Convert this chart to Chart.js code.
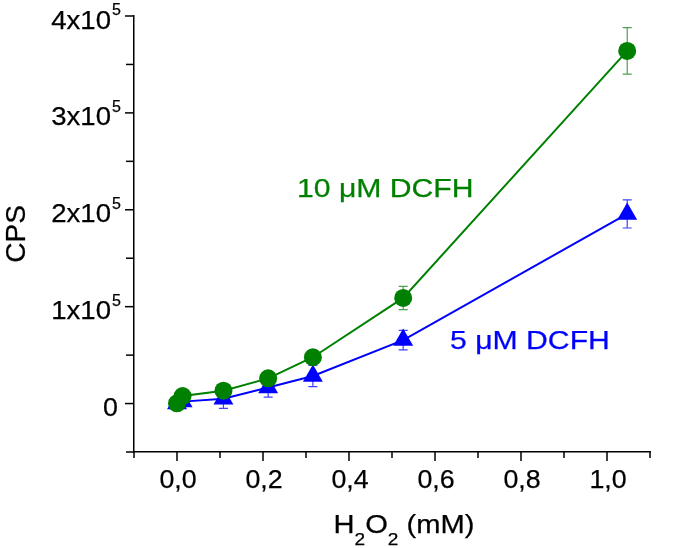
<!DOCTYPE html>
<html><head><meta charset="utf-8">
<script src="https://cdn.jsdelivr.net/npm/chart.js@4"></script>
<style>html,body{margin:0;padding:0;background:#fff}#wrap{width:675px;height:548px}</style>
</head><body><div id="wrap"><canvas id="c" width="675" height="548"></canvas></div>
<script>
// ---- data ----
const xValues      = [0, 0.013, 0.108, 0.212, 0.316, 0.526, 1.047];   // H2O2 (mM)
const greenValues  = [300, 7800, 13300, 26000, 47800, 109000, 364000]; // 10 µM DCFH (CPS)
const greenErrors  = [1000, 1500, 3000, 3500, 4500, 12000, 24000];
const blueValues   = [0, 2000, 5000, 16600, 28500, 65500, 195700];     // 5 µM DCFH (CPS)
const blueErrors   = [1000, 3000, 10000, 10000, 11000, 10000, 14500];
const xTickValues  = [0, 0.2, 0.4, 0.6, 0.8, 1.0];
const xTickLabels  = ['0,0', '0,2', '0,4', '0,6', '0,8', '1,0'];
const yTickValues  = [0, 100000, 200000, 300000, 400000];
const yTickMant    = ['0', '1x10', '2x10', '3x10', '4x10'];
const yTickExp     = ['', '5', '5', '5', '5'];
const seriesLabels = ['10 \u03BCM DCFH', '5 \u03BCM DCFH'];
const labelAnchors = [[0.279, 213000], [0.635, 56300]]; // data coords of annotation text (left, baseline)

const GREEN = '#008000', BLUE = '#0000ff';
const FONT = '"Liberation Sans", Arial, sans-serif';

function txt(ctx, s, x, y, size, color, align, sx) {
  ctx.save();
  ctx.font = size + 'px ' + FONT;
  ctx.fillStyle = color;
  ctx.strokeStyle = color;
  ctx.lineWidth = 0.25;
  ctx.textBaseline = 'alphabetic';
  const w = ctx.measureText(s).width * sx;
  let x0 = x;
  if (align === 'center') x0 = x - w / 2;
  else if (align === 'right') x0 = x - w;
  ctx.translate(x0, y);
  ctx.scale(sx, 1);
  ctx.textAlign = 'left';
  ctx.fillText(s, 0, 0);
  ctx.strokeText(s, 0, 0);
  ctx.restore();
  return w;
}

const errPlugin = {
  id: 'errbars',
  beforeDatasetsDraw(chart) {
    const {ctx, scales: {x, y}} = chart;
    const sets = [[greenValues, greenErrors, '#4f9f4f'], [blueValues, blueErrors, '#4040ff']];
    ctx.save();
    ctx.lineWidth = 1.2;
    sets.forEach(([vals, errs, col]) => {
      ctx.strokeStyle = col;
      vals.forEach((v, i) => {
        const px = x.getPixelForValue(xValues[i]);
        const t = y.getPixelForValue(v + errs[i]);
        const b = y.getPixelForValue(v - errs[i]);
        ctx.beginPath();
        ctx.moveTo(px, t); ctx.lineTo(px, b);
        ctx.moveTo(px - 4.5, t); ctx.lineTo(px + 4.5, t);
        ctx.moveTo(px - 4.5, b); ctx.lineTo(px + 4.5, b);
        ctx.stroke();
      });
    });
    ctx.restore();
  }
};

const axisPlugin = {
  id: 'axisdeco',
  afterDraw(chart) {
    const {ctx, scales: {x, y}} = chart;
    ctx.save();
    ctx.strokeStyle = '#000';
    ctx.lineWidth = 1.5;
    x.ticks.forEach(t => {
      const px = x.getPixelForValue(t.value);
      const major = xTickValues.some(v => Math.abs(v - t.value) < 1e-6);
      ctx.beginPath(); ctx.moveTo(px, x.top); ctx.lineTo(px, x.top + (major ? 9 : 6)); ctx.stroke();
    });
    y.ticks.forEach(t => {
      const py = y.getPixelForValue(t.value);
      const major = yTickValues.some(v => Math.abs(v - t.value) < 1);
      ctx.beginPath(); ctx.moveTo(y.right, py); ctx.lineTo(y.right - (major ? 9 : 8), py); ctx.stroke();
    });
    ctx.restore();
    xTickValues.forEach((v, i) => {
      txt(ctx, xTickLabels[i], x.getPixelForValue(v) + 1, x.top + 36, 26, '#000', 'center', 1.03);
    });
    yTickValues.forEach((v, i) => {
      const py = y.getPixelForValue(v);
      if (yTickExp[i]) {
        txt(ctx, yTickExp[i], y.right - 13, py - 1, 16, '#000', 'right', 1.0);
        txt(ctx, yTickMant[i], y.right - 23, py + 12.5, 26, '#000', 'right', 1.06);
      } else {
        txt(ctx, yTickMant[i], y.right - 16, py + 12.5, 26, '#000', 'right', 1.03);
      }
    });
    ctx.save();
    ctx.translate(25, (y.top + y.bottom) / 2);
    ctx.rotate(-Math.PI / 2);
    txt(ctx, 'CPS', 0, 0, 27, '#000', 'center', 1.04);
    ctx.restore();
    const segs = [['H', 26, 0], ['2', 17, 12], ['O', 26, 0], ['2', 17, 12], [' (mM)', 26, 0]];
    const sx = 1.12;
    let total = 0;
    ctx.save();
    segs.forEach(s => { ctx.font = s[1] + 'px ' + FONT; total += ctx.measureText(s[0]).width * sx; });
    ctx.restore();
    let cx = (x.left + x.right) / 2 + 12 - total / 2;
    segs.forEach(s => { cx += txt(ctx, s[0], cx, 533 + s[2], s[1], '#000', 'left', sx); });
    const cols = [GREEN, BLUE];
    labelAnchors.forEach((a, i) => {
      txt(ctx, seriesLabels[i], x.getPixelForValue(a[0]), y.getPixelForValue(a[1]), 26, cols[i], 'left', 1.16);
    });
  }
};

new Chart(document.getElementById('c').getContext('2d'), {
  type: 'scatter',
  data: {
    datasets: [
      { label: seriesLabels[0], data: xValues.map((v, i) => ({x: v, y: greenValues[i]})),
        showLine: true, tension: 0, borderColor: GREEN, backgroundColor: GREEN, borderWidth: 2,
        pointStyle: 'circle', pointRadius: 9, pointBorderWidth: 0, pointBackgroundColor: GREEN },
      { label: seriesLabels[1], data: xValues.map((v, i) => ({x: v, y: blueValues[i]})),
        showLine: true, tension: 0, borderColor: BLUE, backgroundColor: BLUE, borderWidth: 2,
        pointStyle: 'triangle', pointRadius: 11.5, pointBorderWidth: 0, pointBackgroundColor: BLUE }
    ]
  },
  options: {
    responsive: false, animation: false, devicePixelRatio: 1,
    layout: { padding: { top: 16, right: 25, left: 0, bottom: 0 } },
    plugins: { legend: { display: false }, tooltip: { enabled: false } },
    scales: {
      x: { type: 'linear', min: -0.1, max: 1.1, ticks: { display: false, stepSize: 0.1 },
           grid: { display: false }, border: { display: true, color: '#000', width: 1.5 },
           afterFit(s) { s.height = 96; } },
      y: { type: 'linear', min: -50000, max: 400000, ticks: { display: false, stepSize: 50000 },
           grid: { display: false }, border: { display: true, color: '#000', width: 1.5 },
           afterFit(s) { s.width = 134; } }
    }
  },
  plugins: [errPlugin, axisPlugin]
});
</script></body></html>
